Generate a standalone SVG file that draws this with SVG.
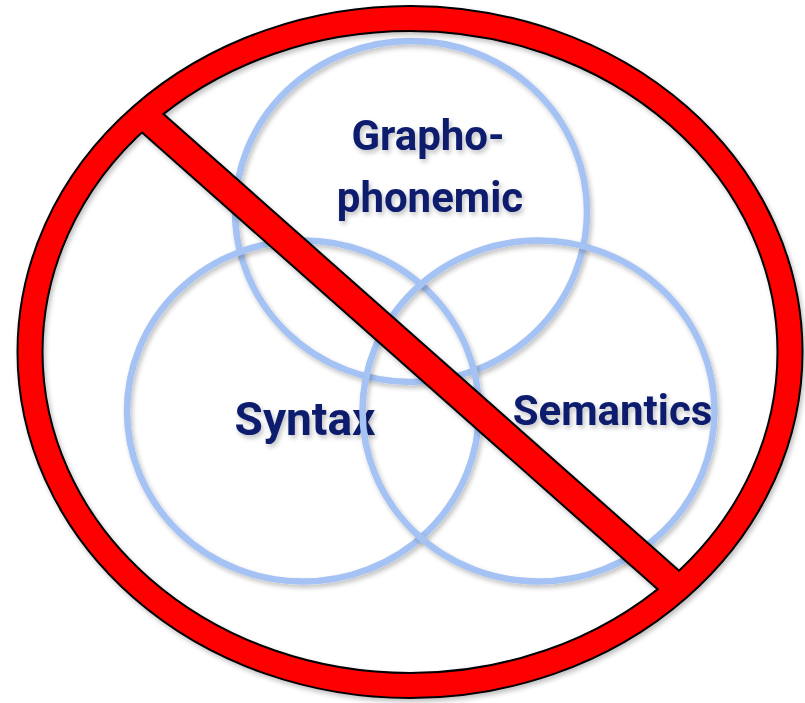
<svg xmlns="http://www.w3.org/2000/svg" width="805" height="703" viewBox="0 0 805 703">
  <defs>
    <filter id="shadow" x="-10%" y="-10%" width="120%" height="120%">
      <feGaussianBlur in="SourceAlpha" stdDeviation="2.5"/>
      <feOffset dx="1.5" dy="2.5" result="b"/>
      <feComponentTransfer><feFuncA type="linear" slope="0.25"/></feComponentTransfer>
      <feMerge><feMergeNode/><feMergeNode in="SourceGraphic"/></feMerge>
    </filter>
    <clipPath id="ringClip">
      <ellipse cx="410" cy="352" rx="380" ry="333.5"/>
    </clipPath>
  </defs>
  <style>
    .circ { fill: none; stroke: #a4c2f4; stroke-width: 6.5; }
    .lbl { font-family: Roboto, "Liberation Sans", sans-serif; font-weight: bold; font-size: 42px; fill: #0a1b6c; text-anchor: middle; }
    .blk { fill: none; stroke: #000000; }
    .red { fill: none; stroke: #ff0000; }
  </style>
  <rect width="805" height="703" fill="#ffffff"/>

  <g id="graphophonemic" filter="url(#shadow)">
    <ellipse class="circ" cx="411" cy="211.5" rx="176" ry="170.5"/>
    <text class="lbl" x="428" y="150">Grapho-</text>
    <text class="lbl" x="430" y="212">phonemic</text>
  </g>
  <g id="syntax" filter="url(#shadow)">
    <ellipse class="circ" cx="303" cy="411" rx="176" ry="170.5"/>
    <text class="lbl" x="305" y="435" style="font-size:46px">Syntax</text>
  </g>
  <g id="semantics" filter="url(#shadow)">
    <ellipse class="circ" cx="538.5" cy="411" rx="176" ry="170.5"/>
    <text class="lbl" x="612.5" y="425">Semantics</text>
  </g>

  <g id="no-sign" filter="url(#shadow)">
    <ellipse class="blk" cx="410" cy="352" rx="380" ry="333.5" stroke-width="27"/>
    <line class="blk" x1="122" y1="96" x2="700" y2="608" stroke-width="30" clip-path="url(#ringClip)"/>
    <ellipse class="red" cx="410" cy="352" rx="380" ry="333.5" stroke-width="23"/>
    <line class="red" x1="122" y1="96" x2="700" y2="608" stroke-width="26" clip-path="url(#ringClip)"/>
  </g>
</svg>
